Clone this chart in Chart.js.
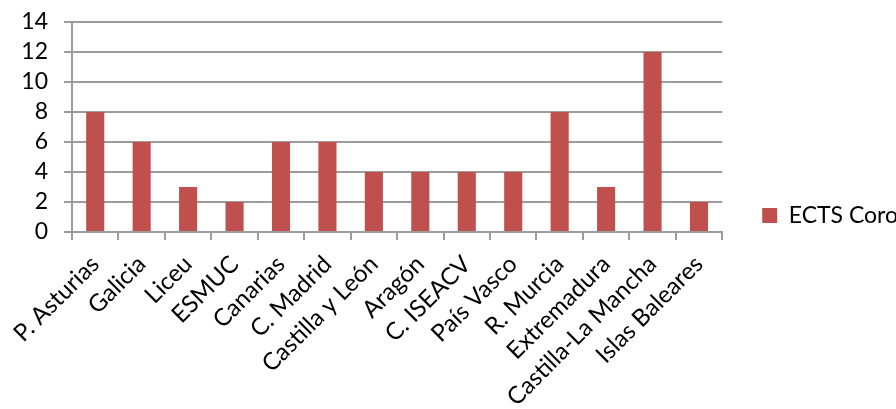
<!DOCTYPE html>
<html>
<head>
<meta charset="utf-8">
<script src="https://cdn.jsdelivr.net/npm/chart.js@4.4.0/dist/chart.umd.min.js"></script>
<style>
    html, body { margin: 0; padding: 0; background: #fff; }
    #wrap { width: 896px; height: 409px; overflow: hidden; position: relative; }
    canvas { display: block; }
</style>
</head>
<body>
<div id="wrap"><canvas id="chart" height="409"></canvas></div>
<script>
// Data
const categories = ['P. Asturias', 'Galicia', 'Liceu', 'ESMUC', 'Canarias', 'C. Madrid',
    'Castilla y León', 'Aragón', 'C. ISEACV', 'País Vasco', 'R. Murcia', 'Extremadura',
    'Castilla-La Mancha', 'Islas Baleares'];
const ectsCoro = [8, 6, 3, 2, 6, 6, 4, 4, 4, 4, 8, 3, 12, 2];
const yTicks = [0, 2, 4, 6, 8, 10, 12, 14];
const seriesName = 'ECTS Coro';

const FONT = 'Lato, "Open Sans", sans-serif';
const gridColor = '#9c9c9c';
const plotRight = 722;
const legendGap = 40;
const legendSize = 23;

// canvas is a bit wider than the window so the legend text runs off the edge like the original
const canvas = document.getElementById('chart');
const mctx = canvas.getContext('2d');
mctx.font = legendSize + 'px ' + FONT;
const textW = mctx.measureText(seriesName).width;
canvas.width = Math.ceil(plotRight + legendGap + 15 + legendSize / 2 + textW + 10);

new Chart(canvas, {
    type: 'bar',
    data: {
        labels: categories,
        datasets: [{
            label: seriesName,
            data: ectsCoro,
            backgroundColor: '#c0504d',
            borderWidth: 0,
            barPercentage: 0.78,
            categoryPercentage: 0.5
        }]
    },
    options: {
        responsive: false,
        animation: false,
        layout: { padding: { top: 22, left: 0, right: 0, bottom: 0 } },
        scales: {
            x: {
                offset: true,
                grid: {
                    offset: true,
                    drawOnChartArea: false,
                    drawTicks: true,
                    tickLength: 8,
                    color: gridColor,
                    lineWidth: 2
                },
                border: { color: gridColor, width: 2 },
                ticks: {
                    color: '#000',
                    font: { family: FONT, size: 24 },
                    maxRotation: 45,
                    minRotation: 45,
                    autoSkip: false,
                    padding: 10
                },
                afterFit: (scale) => {
                    scale.height = 409 - 232;
                    scale.paddingLeft = 0;
                    scale.paddingRight = 0;
                }
            },
            y: {
                min: 0,
                max: 14,
                afterBuildTicks: (scale) => { scale.ticks = yTicks.map(v => ({ value: v })); },
                grid: {
                    color: gridColor,
                    lineWidth: 2,
                    tickLength: 8
                },
                border: { color: gridColor, width: 2 },
                ticks: {
                    color: '#000',
                    font: { family: FONT, size: 23 },
                    padding: 16,
                    autoSkip: false
                },
                afterFit: (scale) => {
                    scale.width = 72;
                    scale.paddingTop = 0;
                    scale.paddingBottom = 0;
                }
            }
        },
        plugins: {
            legend: {
                position: 'right',
                labels: {
                    color: '#000',
                    font: { family: FONT, size: legendSize },
                    boxWidth: 15,
                    boxHeight: 15,
                    padding: legendGap
                }
            },
            tooltip: { enabled: false }
        }
    }
});
</script>
</body>
</html>
